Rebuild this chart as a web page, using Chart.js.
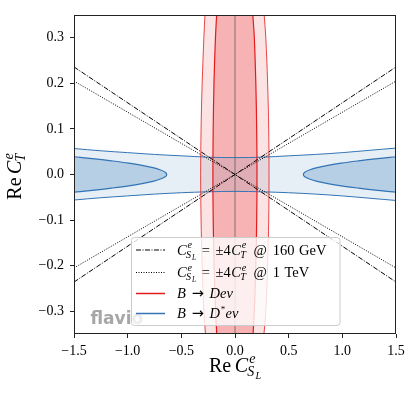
<!DOCTYPE html>
<html>
<head>
<meta charset="utf-8">
<script src="https://cdn.jsdelivr.net/npm/chart.js@4.4.1/dist/chart.umd.min.js"></script>
<style>
  html, body { margin: 0; padding: 0; background: #fff; }
  canvas { display: block; }
</style>
</head>
<body>
<canvas id="chart" width="415" height="394"></canvas>
<script>
// axis ticks
var xTicks = [-1.5, -1.0, -0.5, 0, 0.5, 1.0, 1.5];
var yTicks = [-0.3, -0.2, -0.1, 0, 0.1, 0.2, 0.3];

// B -> D e nu contours (x as a function of y)
var redY      = [-0.35, -0.3, -0.2, -0.1, 0, 0.1, 0.2, 0.3, 0.35];
var red2Left  = [-0.275, -0.29, -0.306, -0.316, -0.32, -0.316, -0.306, -0.29, -0.28];
var red2Right = [0.27, 0.287, 0.304, 0.314, 0.317, 0.314, 0.304, 0.287, 0.272];
var red1Left  = [-0.17, -0.181, -0.195, -0.203, -0.206, -0.203, -0.196, -0.182, -0.171];
var red1Right = [0.168, 0.18, 0.194, 0.202, 0.205, 0.202, 0.194, 0.18, 0.166];

// B -> D* e nu contours
var blueX      = [-1.5, -1.25, -1.0, -0.75, -0.5, -0.25, 0, 0.25, 0.5, 0.75, 1.0, 1.25, 1.5];
var blue2Upper = [0.057, 0.052, 0.048, 0.044, 0.041, 0.038, 0.037, 0.038, 0.041, 0.044, 0.048, 0.053, 0.058];
var blue2Lower = [-0.056, -0.051, -0.047, -0.043, -0.040, -0.038, -0.037, -0.038, -0.040, -0.043, -0.047, -0.052, -0.057];
var lobeY      = [0.039, 0.035, 0.03, 0.025, 0.02, 0.015, 0.01, 0.005, 0, -0.005, -0.01, -0.015, -0.02, -0.025, -0.03, -0.035, -0.039];
var lobeLeftX  = [-1.5, -1.33, -1.15, -0.99, -0.865, -0.765, -0.695, -0.65, -0.636, -0.65, -0.695, -0.765, -0.865, -0.99, -1.15, -1.33, -1.5];
var lobeRightX = [1.5, 1.33, 1.15, 0.99, 0.865, 0.765, 0.695, 0.65, 0.637, 0.65, 0.695, 0.765, 0.865, 0.99, 1.15, 1.33, 1.5];

// C_SL = +-4 C_T lines
var lineX     = [-1.5, 1.5];
var line160   = [0.236, -0.236];
var line160b  = [-0.236, 0.236];
var line1TeV  = [0.205, -0.205];
var line1TeVb = [-0.205, 0.205];
var zeroLineY = [-0.35, 0.35];

var RED = '#e41a1c';
var BLUE = '#3274b5';
var SERIF = '"Liberation Serif"';

function pts(xs, ys) {
  return xs.map(function (x, i) { return { x: x, y: ys[i] }; });
}

function edge(xs, ys, color, width, order) {
  return {
    data: pts(xs, ys), borderColor: color, borderWidth: width,
    fill: false, tension: 0.35, order: order
  };
}

// draws a run of text pieces with sub/superscripts, returns width
function rich(ctx, segs, x, y, base, draw) {
  var cx = x, ps = x, pe = x;
  segs.forEach(function (s) {
    var size = base * (s.sc || 1);
    ctx.font = (s.it ? 'italic ' : '') + size + 'px ' + (s.f || SERIF);
    var w = ctx.measureText(s.t).width;
    var start = (s.under ? ps : cx) + (s.dx || 0) * base;
    if (draw) ctx.fillText(s.t, start, y + (s.dy || 0) * base);
    var end = start + w;
    cx = s.under ? Math.max(pe, end) : end;
    ps = start; pe = end;
  });
  return cx - x;
}

function supsub(sup, sub, subsub) {
  var a = [
    { t: sup, it: 1, sc: 0.7, dy: -0.42, dx: 0.06 },
    { t: sub, it: 1, sc: 0.7, dy: 0.22, dx: -0.1, under: 1 }
  ];
  if (subsub) a.push({ t: subsub, it: 1, sc: 0.5, dy: 0.36 });
  return a;
}

var CSL = [{ t: 'C', it: 1 }].concat(supsub('e', 'S', 'L'));
var CT = [{ t: 'C', it: 1, dx: 0.03 }].concat(supsub('e', 'T'));
var ARROW = { t: '\u2192', dx: 0.4, f: '"DejaVu Sans"' };

var legendItems = [
  { dash: [5, 1.5, 1, 1.5], color: '#000', width: 1,
    label: CSL.concat([{ t: '=', dx: 0.4 }, { t: '\u00b14', dx: 0.38 }], CT,
      [{ t: '@', dx: 0.5 }, { t: '160', dx: 0.4 }, { t: 'GeV', dx: 0.32 }]) },
  { dash: [1, 1.5], color: '#000', width: 1,
    label: CSL.concat([{ t: '=', dx: 0.4 }, { t: '\u00b14', dx: 0.38 }], CT,
      [{ t: '@', dx: 0.5 }, { t: '1', dx: 0.4 }, { t: 'TeV', dx: 0.32 }]) },
  { dash: [], color: RED, width: 1.5,
    label: [{ t: 'B', it: 1 }, ARROW, { t: 'De\u03bd', it: 1, dx: 0.4 }] },
  { dash: [], color: BLUE, width: 1.5,
    label: [{ t: 'B', it: 1 }, ARROW, { t: 'D', it: 1, dx: 0.4 }, { t: '*', sc: 0.62, dy: -0.4, dx: 0.05 }, { t: 'e\u03bd', it: 1, dx: 0.02 }] }
];

var decorations = {
  id: 'decorations',
  afterDatasetsDraw: function (chart) {
    var ctx = chart.ctx, a = chart.chartArea;
    ctx.save();
    ctx.strokeStyle = '#222';
    ctx.lineWidth = 1;
    ctx.strokeRect(Math.round(a.left) + 0.5, Math.round(a.top) + 0.5,
      Math.round(a.right - a.left) - 1, Math.round(a.bottom - a.top) - 1);
    ctx.restore();
  },
  afterDraw: function (chart) {
    var ctx = chart.ctx, a = chart.chartArea;
    ctx.save();
    // watermark
    ctx.fillStyle = 'rgba(128,128,128,0.7)';
    ctx.font = 'bold 17px "DejaVu Sans"';
    ctx.fillText('flavio', a.left + 16.5, a.bottom - 10.5);

    // legend box
    var lx = 131.5, ly = 237.5, lw = 208.5, lh = 88, r = 3;
    ctx.beginPath();
    ctx.moveTo(lx + r, ly);
    ctx.arcTo(lx + lw, ly, lx + lw, ly + lh, r);
    ctx.arcTo(lx + lw, ly + lh, lx, ly + lh, r);
    ctx.arcTo(lx, ly + lh, lx, ly, r);
    ctx.arcTo(lx, ly, lx + lw, ly, r);
    ctx.closePath();
    ctx.fillStyle = 'rgba(255,255,255,0.8)';
    ctx.fill();
    ctx.strokeStyle = '#cccccc';
    ctx.lineWidth = 1;
    ctx.stroke();

    var rowY = [250, 272.5, 293.5, 313.5];
    legendItems.forEach(function (it, i) {
      ctx.beginPath();
      ctx.setLineDash(it.dash);
      ctx.strokeStyle = it.color;
      ctx.lineWidth = it.width;
      ctx.moveTo(136, rowY[i]);
      ctx.lineTo(165, rowY[i]);
      ctx.stroke();
      ctx.setLineDash([]);
      ctx.fillStyle = '#000';
      rich(ctx, it.label, 177, rowY[i] + 4.5, 14.5, true);
    });

    // axis titles
    ctx.fillStyle = '#000';
    var xl = [{ t: 'Re' }, { t: 'C', it: 1, dx: 0.17 }].concat(supsub('e', 'S', 'L'));
    var w = rich(ctx, xl, 0, 0, 20, false);
    rich(ctx, xl, (a.left + a.right) / 2 - w / 2, 371.5, 20, true);

    var yl = [{ t: 'Re' }, { t: 'C', it: 1, dx: 0.17 }].concat(supsub('e', 'T'));
    var wy = rich(ctx, yl, 0, 0, 20, false);
    ctx.translate(21, (a.top + a.bottom) / 2 + 2);
    ctx.rotate(-Math.PI / 2);
    rich(ctx, yl, -wy / 2, 0, 20, true);
    ctx.restore();
  }
};

function fmt(v) {
  return (v < 0 ? '\u2212' : '') + Math.abs(v).toFixed(1);
}

var datasets = [
  // filled regions
  { data: pts(red2Left, redY).concat(pts(red2Right, redY).reverse()),
    fill: 'shape', backgroundColor: 'rgba(228,26,28,0.12)', borderWidth: 0, order: 20 },
  { data: pts(red1Left, redY).concat(pts(red1Right, redY).reverse()),
    fill: 'shape', backgroundColor: 'rgba(228,26,28,0.24)', borderWidth: 0, order: 19 },
  { data: pts(blueX, blue2Upper).concat(pts(blueX, blue2Lower).reverse()),
    fill: 'shape', backgroundColor: 'rgba(55,126,184,0.12)', borderWidth: 0, order: 18 },
  { data: pts(lobeLeftX, lobeY), fill: 'shape', backgroundColor: 'rgba(55,126,184,0.28)',
    borderColor: BLUE, borderWidth: 1.2, tension: 0.35, order: 17 },
  { data: pts(lobeRightX, lobeY), fill: 'shape', backgroundColor: 'rgba(55,126,184,0.28)',
    borderColor: BLUE, borderWidth: 1.2, tension: 0.35, order: 17 },
  // contour edges
  edge(blueX, blue2Upper, BLUE, 1, 16),
  edge(blueX, blue2Lower, BLUE, 1, 16),
  edge(red2Left, redY, 'rgba(228,26,28,0.8)', 1, 15),
  edge(red2Right, redY, 'rgba(228,26,28,0.8)', 1, 15),
  edge(red1Left, redY, RED, 1.2, 14),
  edge(red1Right, redY, RED, 1.2, 14),
  // x = 0 line
  { data: pts([0, 0], zeroLineY), borderColor: 'rgba(90,90,90,0.75)', borderWidth: 1, fill: false, order: 13 },
  // C_SL = +-4 C_T
  { data: pts(lineX, line1TeV), borderColor: '#000', borderWidth: 1, borderDash: [1, 1.5], fill: false, order: 12 },
  { data: pts(lineX, line1TeVb), borderColor: '#000', borderWidth: 1, borderDash: [1, 1.5], fill: false, order: 12 },
  { data: pts(lineX, line160), borderColor: '#000', borderWidth: 1, borderDash: [5, 1.5, 1, 1.5], fill: false, order: 11 },
  { data: pts(lineX, line160b), borderColor: '#000', borderWidth: 1, borderDash: [5, 1.5, 1, 1.5], fill: false, order: 11 }
];

var chart = new Chart(document.getElementById('chart').getContext('2d'), {
  type: 'line',
  data: { datasets: datasets },
  options: {
    responsive: false,
    animation: false,
    devicePixelRatio: 1,
    layout: { padding: { left: 0, top: 15, right: 19, bottom: 0 } },
    elements: { point: { radius: 0, hoverRadius: 0 }, line: { tension: 0 } },
    plugins: { legend: { display: false }, tooltip: { enabled: false } },
    scales: {
      x: {
        type: 'linear', min: -1.5, max: 1.5,
        afterBuildTicks: function (s) { s.ticks = xTicks.map(function (v) { return { value: v }; }); },
        afterFit: function (s) { s.height = 60; },
        grid: { drawOnChartArea: false, drawTicks: true, tickLength: 4, color: '#222' },
        border: { display: false },
        ticks: { color: '#000', padding: 5, maxRotation: 0, autoSkip: false,
          font: { family: 'Liberation Serif', size: 14 }, callback: fmt }
      },
      y: {
        type: 'linear', min: -0.35, max: 0.35,
        afterBuildTicks: function (s) { s.ticks = yTicks.map(function (v) { return { value: v }; }); },
        afterFit: function (s) { s.width = 74; },
        grid: { drawOnChartArea: false, drawTicks: true, tickLength: 4, color: '#222' },
        border: { display: false },
        ticks: { color: '#000', padding: 6, autoSkip: false,
          font: { family: 'Liberation Serif', size: 14 }, callback: fmt }
      }
    }
  },
  plugins: [decorations]
});
</script>
</body>
</html>
